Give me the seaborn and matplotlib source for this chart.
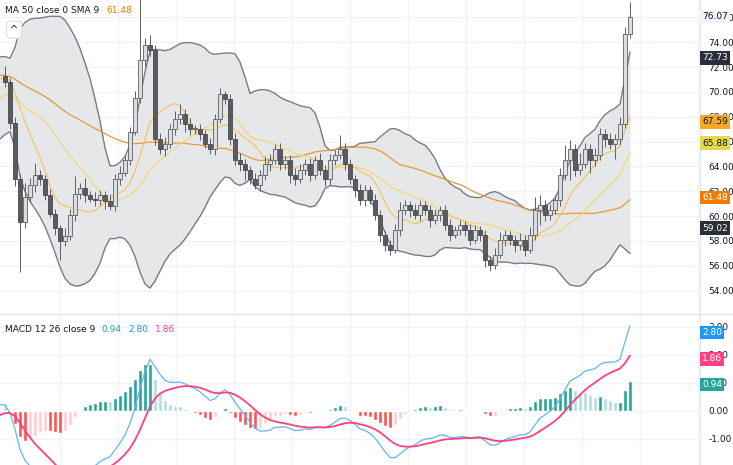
import numpy as np
import pandas as pd
import matplotlib.pyplot as plt
import seaborn as sns

# hidden history (before the visible window), used only to warm up indicators
history = [72.0, 72.5, 73.0, 73.4, 73.8, 74.0, 73.6, 73.2, 73.5, 73.9,
           74.2, 74.0, 73.5, 73.0, 72.6, 72.9, 73.3, 72.8, 72.3, 72.0,
           71.6, 71.9, 72.2, 71.7, 71.2, 70.8, 71.1, 71.5, 71.0, 70.6,
           67.0, 66.5, 67.2, 67.8, 68.3, 67.9, 68.6, 69.2, 68.8, 69.5,
           70.1, 69.7, 70.4, 71.0, 70.6, 71.3, 71.8, 71.4, 71.9, 71.3]

closes = [70.8, 67.5, 63.0, 59.5, 61.5, 62.5, 63.3, 63.0, 61.7, 60.2,
          59.0, 58.0, 58.4, 60.1, 61.8, 62.3, 61.7, 61.4, 61.3, 61.7,
          61.2, 60.8, 63.0, 63.5, 64.5, 66.8, 69.5, 72.6, 73.8, 73.4,
          66.2, 65.4, 65.8, 67.0, 67.8, 68.2, 67.4, 67.0, 67.0, 66.6,
          65.8, 65.4, 67.8, 69.8, 69.4, 66.2, 64.5, 64.2, 63.7, 63.0,
          62.5, 63.3, 64.2, 64.5, 65.4, 64.2, 64.5, 63.3, 63.0, 63.7,
          64.2, 63.3, 64.5, 63.7, 63.0, 64.5, 64.9, 65.4, 64.2, 63.0,
          62.1, 61.3, 62.1, 61.3, 60.1, 58.5, 57.7, 57.3, 58.9, 60.5,
          60.9, 60.5, 60.1, 60.9, 60.5, 59.7, 60.1, 60.5, 59.3, 58.5,
          58.9, 59.3, 58.9, 58.1, 58.9, 58.5, 56.5, 56.1, 56.9, 58.1,
          58.5, 58.1, 57.7, 58.1, 57.3, 58.5, 60.5, 60.9, 60.1, 60.5,
          61.3, 63.3, 64.5, 65.4, 63.7, 64.2, 65.4, 64.5, 64.9, 66.6,
          66.2, 65.8, 66.2, 67.4, 74.7, 76.07]

wick_up = [0.8, 0.3, 0.5, 0.4, 1.2, 0.6, 1.0, 0.4, 0.3, 0.5,
           0.4, 0.3, 0.6, 0.5, 1.4, 0.4, 0.8, 0.3, 0.5, 0.4,
           0.3, 0.6, 0.4, 0.5, 0.3, 0.4, 0.6, 5.0, 0.5, 0.8,
           0.4, 0.5, 0.6, 0.4, 0.7, 0.8, 0.4, 0.5, 0.3, 0.4,
           0.3, 0.5, 0.4, 0.5, 0.3, 0.4, 0.5, 0.6, 0.4, 0.3,
           0.5, 0.4, 0.6, 0.5, 0.4, 0.5, 0.3, 0.4, 0.6, 0.5,
           0.4, 0.5, 0.3, 0.6, 0.4, 0.5, 0.4, 1.1, 0.5, 0.4,
           0.3, 0.5, 0.4, 0.3, 0.5, 0.4, 0.3, 0.4, 0.5, 0.6,
           0.4, 0.3, 0.5, 0.4, 0.3, 0.4, 0.5, 0.3, 0.4, 0.5,
           0.3, 0.4, 0.3, 0.5, 0.4, 0.3, 0.4, 0.3, 0.5, 0.6,
           0.4, 0.3, 0.4, 0.5, 0.4, 0.6, 1.0, 0.8, 0.4, 0.5,
           0.4, 0.6, 1.2, 0.7, 0.4, 0.9, 0.5, 0.4, 0.6, 0.5,
           0.4, 0.5, 0.4, 0.6, 0.5, 1.2]

wick_dn = [0.4, 0.5, 0.6, 4.0, 0.5, 0.4, 0.6, 0.5, 0.4, 0.3,
           0.5, 1.5, 0.4, 0.3, 0.5, 0.4, 0.6, 0.3, 0.5, 0.4,
           0.6, 0.3, 0.4, 0.5, 0.3, 0.4, 0.3, 0.4, 0.6, 0.5,
           0.5, 0.4, 0.6, 0.3, 0.5, 0.4, 0.6, 0.5, 0.4, 0.5,
           0.3, 0.4, 0.5, 0.3, 0.4, 0.5, 0.4, 0.6, 0.8, 0.4,
           0.3, 0.5, 0.4, 0.6, 0.3, 0.5, 0.4, 0.6, 0.5, 0.3,
           0.4, 0.5, 0.3, 0.4, 0.6, 0.5, 0.4, 0.3, 0.5, 0.4,
           0.6, 0.4, 0.5, 0.3, 0.4, 0.6, 0.5, 0.4, 0.3, 0.5,
           0.4, 0.6, 0.3, 0.5, 0.4, 0.6, 0.3, 0.5, 0.4, 0.5,
           0.3, 0.4, 0.5, 0.4, 0.3, 0.5, 0.6, 0.5, 0.4, 0.3,
           0.5, 0.4, 0.6, 0.4, 0.5, 0.3, 0.4, 1.2, 0.5, 0.4,
           0.3, 0.5, 0.4, 1.6, 0.5, 0.4, 0.3, 1.0, 0.5, 0.4,
           0.6, 0.4, 1.2, 0.5, 0.3, 0.4]

price_ticks = [54, 56, 58, 60, 62, 64, 66, 68, 70, 72, 74, 76]
macd_ticks = [-1, 0, 1, 2, 3]
price_labels = [("76.07", 76.07, "#f0f3fa", "#131722"),
                ("72.73", 72.73, "#2a2e39", "white"),
                ("67.59", 67.59, "#f9a825", "#131722"),
                ("65.88", 65.88, "#e5d84a", "#131722"),
                ("61.48", 61.48, "#ef7c00", "white"),
                ("59.02", 59.02, "#2a2e39", "white")]
macd_labels = [("2.80", 2.80, "#2196f3"), ("1.86", 1.86, "#ff4081"),
               ("0.94", 0.94, "#26a69a")]

full = pd.Series(history + closes)
n_hist = len(history)
ma50 = full.rolling(50, min_periods=1).mean()
basis = full.rolling(20).mean()
dev = full.rolling(20).std(ddof=0)
upper = basis + 2 * dev
lower = basis - 2 * dev
ma9 = full.rolling(9).mean()
macd = full.ewm(span=12, adjust=False).mean() - full.ewm(span=26, adjust=False).mean()
signal = macd.ewm(span=9, adjust=False).mean()
hist = macd - signal

df = pd.DataFrame({
    "i": np.arange(len(full)) - n_hist,
    "close": full, "ma50": ma50, "basis": basis, "upper": upper,
    "lower": lower, "ma9": ma9, "macd": macd, "signal": signal, "hist": hist,
})
vis = df[df["i"] >= -2].copy()
cd = df[df["i"] >= 0].copy()
cd["open"] = df["close"].shift(1)[df["i"] >= 0]
cd["high"] = np.maximum(cd["open"], cd["close"]) + np.array(wick_up)
cd["low"] = np.minimum(cd["open"], cd["close"]) - np.array(wick_dn)

sns.set_style("white")
plt.rcParams['font.family'] = ['DejaVu Sans']
fig = plt.figure(figsize=(7.33, 4.65), dpi=100)
ax = fig.add_axes([0, 0.327, 700 / 733, 0.673])
ax2 = fig.add_axes([0, 0, 700 / 733, 0.323])

for a in (ax, ax2):
    a.set_xlim(-1, 139)
    a.set_xticks(np.arange(11, 139, 11.6))
    a.tick_params(axis="x", length=0, labelbottom=False)
    a.grid(True, color="#f0f3fa", lw=1)
    a.yaxis.tick_right()
    a.tick_params(axis="y", length=0, labelsize=6.5, colors="#131722", pad=6)
    for s in ("top", "left", "bottom"):
        a.spines[s].set_visible(False)
    a.spines["right"].set_color("#e0e3eb")

# price pane
ax.set_ylim(52.2, 77.4)
ax.fill_between(vis["i"], vis["lower"], vis["upper"], color="#e4e5e6", alpha=0.9, lw=0)
sns.lineplot(data=vis, x="i", y="upper", ax=ax, color="#7a7c80", lw=1)
sns.lineplot(data=vis, x="i", y="lower", ax=ax, color="#7a7c80", lw=1)
sns.lineplot(data=vis, x="i", y="ma50", ax=ax, color="#e69a3a", lw=0.9)
sns.lineplot(data=vis, x="i", y="basis", ax=ax, color="#f3d77a", lw=0.9)
sns.lineplot(data=vis, x="i", y="ma9", ax=ax, color="#f6c46a", lw=0.9)

up = cd["close"] >= cd["open"]
ax.vlines(cd["i"], cd["low"], cd["high"], color="#5d5f63", lw=0.7, zorder=3)
body_lo = np.minimum(cd["open"], cd["close"])
body_h = (cd["close"] - cd["open"]).abs().clip(lower=0.08)
ax.bar(cd["i"][up], body_h[up], bottom=body_lo[up], width=0.62,
       color="#dcdde0", edgecolor="#5d5f63", lw=0.6, zorder=4)
ax.bar(cd["i"][~up], body_h[~up], bottom=body_lo[~up], width=0.62,
       color="#5a5b5e", edgecolor="#4a4b4e", lw=0.6, zorder=4)
ax.set_xlabel("")
ax.set_ylabel("")
ax.set_yticks(price_ticks)
ax.set_yticklabels([f"{v:.2f}" for v in price_ticks])

for txt, v, bg, fg in price_labels:
    ax.text(1.003, v, txt, transform=ax.get_yaxis_transform(), fontsize=6.5,
            color=fg, va="center", ha="left",
            bbox=dict(boxstyle="square,pad=0.25", fc=bg, ec="none"), clip_on=False)

ax.text(0.007, 0.965, "MA 50 close 0 SMA 9", transform=ax.transAxes, fontsize=6.5,
        color="#131722", va="center")
ax.text(0.152, 0.965, "61.48", transform=ax.transAxes, fontsize=6.5,
        color="#ef7c00", va="center")
ax.text(0.02, 0.905, "^", transform=ax.transAxes, fontsize=7, color="#131722",
        va="center", ha="center",
        bbox=dict(boxstyle="round,pad=0.35", fc="white", ec="#e0e3eb"))

# macd pane
ax2.set_ylim(-1.93, 3.43)
hv = cd["hist"].values
prev = df["hist"].shift(1)[df["i"] >= 0].values
cols = np.where(hv >= 0, np.where(hv >= prev, "#26a69a", "#b2dfdb"),
                np.where(hv <= prev, "#ff5252", "#ffcdd2"))
ax2.bar(cd["i"], hv, width=0.7, color=cols, zorder=2)
sns.lineplot(data=vis, x="i", y="macd", ax=ax2, color="#64b5f6", lw=0.9)
sns.lineplot(data=vis, x="i", y="signal", ax=ax2, color="#ff4081", lw=1.3)
ax2.set_xlabel("")
ax2.set_ylabel("")
ax2.set_yticks(macd_ticks)
ax2.set_yticklabels([f"{v:.2f}" for v in macd_ticks])
for txt, v, bg in macd_labels:
    ax2.text(1.003, v, txt, transform=ax2.get_yaxis_transform(), fontsize=6.5,
             color="white", va="center", ha="left",
             bbox=dict(boxstyle="square,pad=0.25", fc=bg, ec="none"), clip_on=False)
ax2.text(0.007, 0.9, "MACD 12 26 close 9", transform=ax2.transAxes, fontsize=6.5,
         color="#131722", va="center")
ax2.text(0.145, 0.9, "0.94", transform=ax2.transAxes, fontsize=6.5, color="#26a69a", va="center")
ax2.text(0.183, 0.9, "2.80", transform=ax2.transAxes, fontsize=6.5, color="#2196f3", va="center")
ax2.text(0.221, 0.9, "1.86", transform=ax2.transAxes, fontsize=6.5, color="#ff4081", va="center")
fig.add_artist(plt.Line2D([0, 1], [0.325, 0.325], color="#e0e3eb", lw=1))

fig.savefig("out.png", dpi=100)
